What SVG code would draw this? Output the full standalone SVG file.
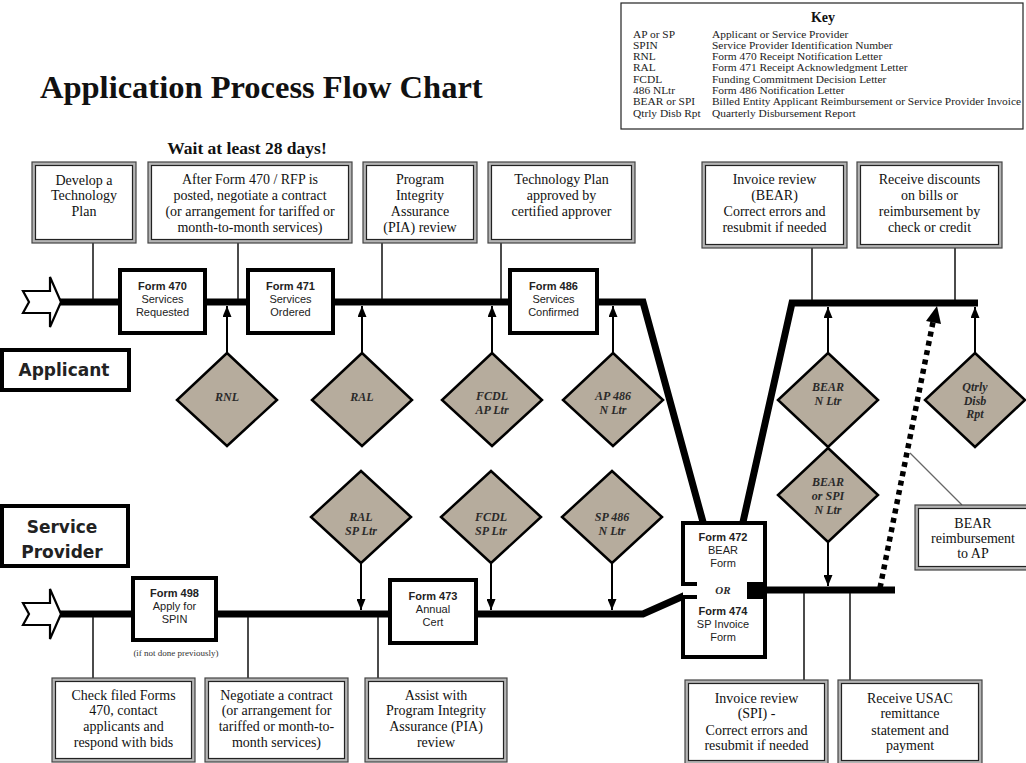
<svg xmlns="http://www.w3.org/2000/svg" width="1026" height="763" viewBox="0 0 1026 763">
<style>
.title{font-family:"Liberation Serif",serif;font-weight:bold;font-size:32.5px;fill:#111}
.wait{font-family:"Liberation Serif",serif;font-weight:bold;font-size:17.5px;fill:#111;text-anchor:middle}
.key{font-family:"Liberation Serif",serif;font-size:11.4px;fill:#222}
.keyh{font-family:"Liberation Serif",serif;font-weight:bold;font-size:14px;fill:#111;text-anchor:middle}
.bo{fill:#b4b4b4;stroke:#444;stroke-width:1.2}
.bi{fill:#fff;stroke:#222;stroke-width:1.2}
.bt{font-family:"Liberation Serif",serif;font-size:14px;fill:#111;text-anchor:middle}
.fb{fill:#fff;stroke:#000;stroke-width:4}
.ft{font-family:"Liberation Sans",Arial,sans-serif;font-size:11px;fill:#222;text-anchor:middle}
.ftb{font-weight:bold}
.dia{fill:#b6ac9d;stroke:#000;stroke-width:2.5}
.dt{font-family:"Liberation Serif",serif;font-weight:bold;font-style:italic;font-size:12px;fill:#2a2a2a;text-anchor:middle}
.lane{fill:#fff;stroke:#000;stroke-width:4}
.lt{font-family:"DejaVu Sans",sans-serif;font-weight:bold;font-size:17px;fill:#222;text-anchor:middle}
.main{fill:none;stroke:#000;stroke-width:7;stroke-linejoin:miter}
.thin{fill:none;stroke:#111;stroke-width:1.5}
.arr{fill:none;stroke:#000;stroke-width:2}
.small{font-family:"Liberation Serif",serif;font-size:9px;fill:#333;text-anchor:middle}
.entry{fill:#fff;stroke:#000;stroke-width:2.2;stroke-linejoin:miter}
</style>
<defs>
<marker id="ah" markerUnits="userSpaceOnUse" markerWidth="11" markerHeight="9" viewBox="0 0 11 9" refX="11" refY="4.5" orient="auto">
<path d="M0,0 L11,4.5 L0,9 Z" fill="#000"/>
</marker>
<path id="entryArrow" d="M23,-11 H50 V-25 L61,0 L50,25 V11 H23 L29,0 Z"/>
</defs>

<rect width="1026" height="763" fill="#fff"/>

<text class="title" x="40" y="98">Application Process Flow Chart</text>

<g id="key">
<rect x="621" y="3" width="402" height="126" fill="#fff" stroke="#222" stroke-width="1.2"/>
<text class="keyh" x="823" y="22">Key</text>
<text class="key" x="633" y="37.5">AP or SP</text><text class="key" x="712" y="37.5">Applicant or Service Provider</text>
<text class="key" x="633" y="48.8">SPIN</text><text class="key" x="712" y="48.8">Service Provider Identification Number</text>
<text class="key" x="633" y="60">RNL</text><text class="key" x="712" y="60">Form 470 Receipt Notification Letter</text>
<text class="key" x="633" y="71.4">RAL</text><text class="key" x="712" y="71.4">Form 471 Receipt Acknowledgment Letter</text>
<text class="key" x="633" y="82.7">FCDL</text><text class="key" x="712" y="82.7">Funding Commitment Decision Letter</text>
<text class="key" x="633" y="94">486 NLtr</text><text class="key" x="712" y="94">Form 486 Notification Letter</text>
<text class="key" x="633" y="105.3">BEAR or SPI</text><text class="key" x="712" y="105.3">Billed Entity Applicant Reimbursement or Service Provider Invoice</text>
<text class="key" x="633" y="116.6">Qtrly Disb Rpt</text><text class="key" x="712" y="116.6">Quarterly Disbursement Report</text>
</g>

<text class="wait" x="247" y="154">Wait at least 28 days!</text>

<g id="connectors">
<path class="main" d="M58,302 H643 L703,522"/>
<path class="main" d="M743,522 L792,303 H978"/>
<path class="main" d="M58,614 H643 L697,590"/>
<path class="main" d="M749,590 H895"/>
<path class="thin" d="M93,243 V299 M238,243 V299 M382,243 V299 M501,243 V299 M812,248 V300 M955,248 V300"/>
<path class="thin" d="M93,617 V678 M248,617 V678 M378,617 V678 M804,593 V680 M850,593 V680"/>
<path d="M962,505 L910,453" stroke="#666" stroke-width="1.2" fill="none"/>
<path class="arr" marker-end="url(#ah)" d="M227,353 V306"/>
<path class="arr" marker-end="url(#ah)" d="M362,353 V306"/>
<path class="arr" marker-end="url(#ah)" d="M492,353 V306"/>
<path class="arr" marker-end="url(#ah)" d="M613,353 V306"/>
<path class="arr" marker-end="url(#ah)" d="M828,353 V307"/>
<path class="arr" marker-end="url(#ah)" d="M975,353 V307"/>
<path class="arr" marker-end="url(#ah)" d="M361,563 V610"/>
<path class="arr" marker-end="url(#ah)" d="M491,563 V610"/>
<path class="arr" marker-end="url(#ah)" d="M612,563 V610"/>
<path class="arr" marker-end="url(#ah)" d="M828,542 V586"/>
<path d="M880,588 L933,322" stroke="#000" stroke-width="5.5" stroke-dasharray="5,4.5" fill="none"/>
<path d="M937,306 L941,324 L926,321 Z" fill="#000"/>
</g>

<g id="entry-applicant"><use href="#entryArrow" class="entry" transform="translate(0,302)"/></g>
<g id="entry-provider"><use href="#entryArrow" class="entry" transform="translate(0,614)"/></g>

<g id="lane-applicant">
<rect class="lane" x="2" y="350" width="127" height="40"/>
<text class="lt" x="64" y="376">Applicant</text>
</g>
<g id="lane-provider">
<rect class="lane" x="2" y="506" width="126" height="60"/>
<text class="lt" x="62" y="533">Service</text>
<text class="lt" x="62" y="558">Provider</text>
</g>

<g id="box-develop-plan">
<rect class="bo" x="32" y="162" width="104" height="81"/><rect class="bi" x="35.5" y="165.5" width="97" height="74"/>
<text class="bt" x="84" y="184.5">Develop a</text><text class="bt" x="84" y="200">Technology</text><text class="bt" x="84" y="215.5">Plan</text>
</g>
<g id="box-negotiate-applicant">
<rect class="bo" x="148" y="162" width="204" height="81"/><rect class="bi" x="151.5" y="165.5" width="197" height="74"/>
<text class="bt" x="250" y="184">After Form 470 / RFP is</text><text class="bt" x="250" y="200">posted, negotiate a contract</text><text class="bt" x="250" y="216">(or arrangement for tariffed or</text><text class="bt" x="250" y="232">month-to-month services)</text>
</g>
<g id="box-pia">
<rect class="bo" x="363" y="162" width="114" height="81"/><rect class="bi" x="366.5" y="165.5" width="107" height="74"/>
<text class="bt" x="420" y="184">Program</text><text class="bt" x="420" y="200">Integrity</text><text class="bt" x="420" y="216">Assurance</text><text class="bt" x="420" y="232">(PIA) review</text>
</g>
<g id="box-techplan-approved">
<rect class="bo" x="488" y="162" width="147" height="81"/><rect class="bi" x="491.5" y="165.5" width="140" height="74"/>
<text class="bt" x="561.5" y="184">Technology Plan</text><text class="bt" x="561.5" y="200">approved by</text><text class="bt" x="561.5" y="216">certified approver</text>
</g>
<g id="box-invoice-bear">
<rect class="bo" x="702" y="162" width="145" height="86"/><rect class="bi" x="705.5" y="165.5" width="138" height="79"/>
<text class="bt" x="774.5" y="184">Invoice review</text><text class="bt" x="774.5" y="200">(BEAR)</text><text class="bt" x="774.5" y="216">Correct errors and</text><text class="bt" x="774.5" y="232">resubmit if needed</text>
</g>
<g id="box-receive-discounts">
<rect class="bo" x="857" y="162" width="145" height="86"/><rect class="bi" x="860.5" y="165.5" width="138" height="79"/>
<text class="bt" x="929.5" y="184">Receive discounts</text><text class="bt" x="929.5" y="200">on bills or</text><text class="bt" x="929.5" y="216">reimbursement by</text><text class="bt" x="929.5" y="232">check or credit</text>
</g>

<g id="box-check-forms">
<rect class="bo" x="52" y="678" width="143" height="84"/><rect class="bi" x="55.5" y="681.5" width="136" height="77"/>
<text class="bt" x="123.5" y="699.5">Check filed Forms</text><text class="bt" x="123.5" y="714.5">470, contact</text><text class="bt" x="123.5" y="731">applicants and</text><text class="bt" x="123.5" y="746.5">respond with bids</text>
</g>
<g id="box-negotiate-provider">
<rect class="bo" x="205" y="678" width="143" height="84"/><rect class="bi" x="208.5" y="681.5" width="136" height="77"/>
<text class="bt" x="276.5" y="699.5">Negotiate a contract</text><text class="bt" x="276.5" y="714.5">(or arrangement for</text><text class="bt" x="276.5" y="731">tariffed or month-to-</text><text class="bt" x="276.5" y="746.5">month services)</text>
</g>
<g id="box-assist-pia">
<rect class="bo" x="365" y="678" width="142" height="84"/><rect class="bi" x="368.5" y="681.5" width="135" height="77"/>
<text class="bt" x="436" y="699.5">Assist with</text><text class="bt" x="436" y="714.5">Program Integrity</text><text class="bt" x="436" y="731">Assurance (PIA)</text><text class="bt" x="436" y="746.5">review</text>
</g>
<g id="box-invoice-spi">
<rect class="bo" x="685" y="680" width="143" height="84"/><rect class="bi" x="688.5" y="683.5" width="136" height="77"/>
<text class="bt" x="756.5" y="702.5">Invoice review</text><text class="bt" x="756.5" y="717.5">(SPI) -</text><text class="bt" x="756.5" y="734.5">Correct errors and</text><text class="bt" x="756.5" y="749.5">resubmit if needed</text>
</g>
<g id="box-receive-usac">
<rect class="bo" x="838" y="680" width="144" height="84"/><rect class="bi" x="841.5" y="683.5" width="137" height="77"/>
<text class="bt" x="910" y="702.5">Receive USAC</text><text class="bt" x="910" y="717.5">remittance</text><text class="bt" x="910" y="734.5">statement and</text><text class="bt" x="910" y="749.5">payment</text>
</g>
<g id="box-bear-reimbursement">
<rect class="bo" x="915" y="505" width="116" height="65"/><rect class="bi" x="918.5" y="508.5" width="109" height="58"/>
<text class="bt" x="973" y="527.5">BEAR</text><text class="bt" x="973" y="542.5">reimbursement</text><text class="bt" x="973" y="557.5">to AP</text>
</g>

<g id="form-470">
<rect class="fb" x="120" y="270" width="85" height="63"/>
<text class="ft ftb" x="162.5" y="290">Form 470</text><text class="ft" x="162.5" y="303">Services</text><text class="ft" x="162.5" y="316">Requested</text>
</g>
<g id="form-471">
<rect class="fb" x="248" y="270" width="85" height="63"/>
<text class="ft ftb" x="290.5" y="290">Form 471</text><text class="ft" x="290.5" y="303">Services</text><text class="ft" x="290.5" y="316">Ordered</text>
</g>
<g id="form-486">
<rect class="fb" x="510" y="270" width="87" height="63"/>
<text class="ft ftb" x="553.5" y="290">Form 486</text><text class="ft" x="553.5" y="303">Services</text><text class="ft" x="553.5" y="316">Confirmed</text>
</g>
<g id="form-498">
<rect class="fb" x="133" y="578" width="83" height="62"/>
<text class="ft ftb" x="174.5" y="597">Form 498</text><text class="ft" x="174.5" y="610">Apply for</text><text class="ft" x="174.5" y="623">SPIN</text>
<text class="small" x="176" y="656">(if not done previously)</text>
</g>
<g id="form-473">
<rect class="fb" x="390" y="580" width="86" height="63"/>
<text class="ft ftb" x="433" y="599.5">Form 473</text><text class="ft" x="433" y="612.5">Annual</text><text class="ft" x="433" y="625.5">Cert</text>
</g>
<g id="form-472-474">
<rect x="683" y="523" width="82" height="134" fill="#fff"/>
<path d="M697,584 H683 V523 H765 V584 H749 M697,597 H683 V657 H765 V597 H749" fill="none" stroke="#000" stroke-width="4"/>
<rect x="747" y="582" width="20" height="17" fill="#000"/>
<text class="ft ftb" x="723" y="541">Form 472</text><text class="ft" x="723" y="554">BEAR</text><text class="ft" x="723" y="567">Form</text>
<text class="dt" x="723" y="594" style="font-size:11px">OR</text>
<text class="ft ftb" x="723" y="615">Form 474</text><text class="ft" x="723" y="628">SP Invoice</text><text class="ft" x="723" y="641">Form</text>
</g>

<g id="d-rnl"><path class="dia" d="M227,353 L277,400 L227,446 L177,400 Z"/><text class="dt" x="227" y="401">RNL</text></g>
<g id="d-ral"><path class="dia" d="M362,353 L412,400 L362,446 L312,400 Z"/><text class="dt" x="362" y="401">RAL</text></g>
<g id="d-fcdl-ap"><path class="dia" d="M492,353 L542,400 L492,446 L442,400 Z"/><text class="dt" x="492" y="400">FCDL</text><text class="dt" x="492" y="414">AP Ltr</text></g>
<g id="d-ap486"><path class="dia" d="M613,353 L663,400 L613,446 L563,400 Z"/><text class="dt" x="613" y="400">AP 486</text><text class="dt" x="613" y="414">N Ltr</text></g>
<g id="d-bear-n"><path class="dia" d="M828,353 L878,400 L828,447 L778,400 Z"/><text class="dt" x="828" y="391">BEAR</text><text class="dt" x="828" y="405">N Ltr</text></g>
<g id="d-bear-spi"><path class="dia" d="M828,448 L878,495 L828,542 L778,495 Z"/><text class="dt" x="828" y="486">BEAR</text><text class="dt" x="828" y="500">or SPI</text><text class="dt" x="828" y="514">N Ltr</text></g>
<g id="d-qtrly"><path class="dia" d="M975,353 L1025,400 L975,447 L925,400 Z"/><text class="dt" x="975" y="391">Qtrly</text><text class="dt" x="975" y="404.5">Disb</text><text class="dt" x="975" y="418">Rpt</text></g>
<g id="d-ral-sp"><path class="dia" d="M361,471 L411,517 L361,563 L311,517 Z"/><text class="dt" x="361" y="521">RAL</text><text class="dt" x="361" y="535">SP Ltr</text></g>
<g id="d-fcdl-sp"><path class="dia" d="M491,471 L541,517 L491,563 L441,517 Z"/><text class="dt" x="491" y="521">FCDL</text><text class="dt" x="491" y="535">SP Ltr</text></g>
<g id="d-sp486"><path class="dia" d="M612,471 L662,517 L612,563 L562,517 Z"/><text class="dt" x="612" y="521">SP 486</text><text class="dt" x="612" y="535">N Ltr</text></g>
</svg>
